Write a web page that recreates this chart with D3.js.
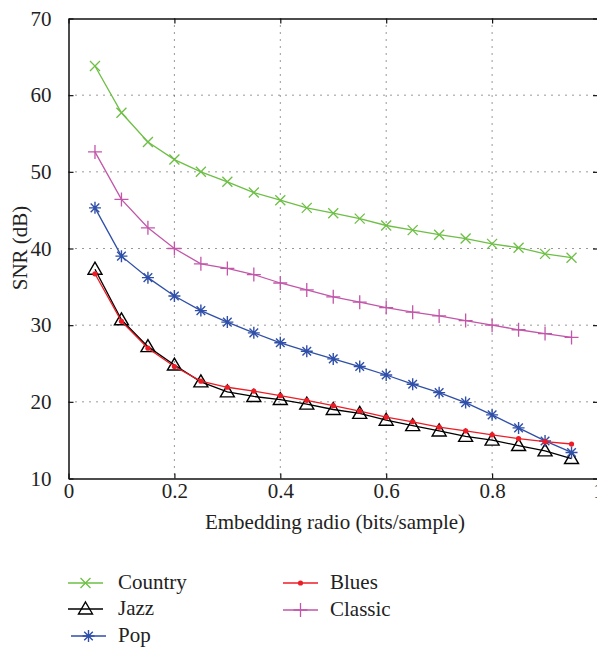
<!DOCTYPE html>
<html><head><meta charset="utf-8">
<script src="https://cdn.jsdelivr.net/npm/d3@7"></script>
<style>body{margin:0;background:#fff}svg{display:block}text{font-family:"Liberation Serif","DejaVu Serif",serif;fill:#222}</style>
</head><body><svg id="c" width="597" height="648"></svg>
<script>
const xs = [0.05,0.10,0.15,0.20,0.25,0.30,0.35,0.40,0.45,0.50,0.55,0.60,0.65,0.70,0.75,0.80,0.85,0.90,0.95];
const country = [63.8,57.7,53.9,51.6,50.0,48.7,47.3,46.3,45.3,44.6,43.9,43.0,42.4,41.8,41.3,40.6,40.1,39.3,38.8];
const jazz    = [37.3,30.7,27.2,24.8,22.6,21.3,20.7,20.3,19.7,19.0,18.5,17.6,16.9,16.2,15.5,15.0,14.3,13.6,12.6];
const pop     = [45.3,39.0,36.2,33.8,31.9,30.4,29.0,27.7,26.6,25.6,24.6,23.5,22.3,21.2,19.9,18.3,16.6,14.9,13.4];
const blues   = [36.7,30.5,27.0,24.6,22.7,21.9,21.4,20.8,20.2,19.5,18.8,18.0,17.4,16.7,16.2,15.7,15.2,14.8,14.5];
const classic = [52.6,46.4,42.7,40.0,38.0,37.4,36.6,35.5,34.6,33.7,33.0,32.3,31.7,31.2,30.6,30.0,29.4,28.9,28.4];
const xTicks = [0,0.2,0.4,0.6,0.8,1];
const xTickLabels = ["0","0.2","0.4","0.6","0.8","1"];
const yTicks = [10,20,30,40,50,60,70];
const seriesNames = ["Country","Jazz","Pop","Blues","Classic"];
const seriesColors = ["#6dbf45","#000000","#2f4fa8","#ee1c25","#c256a9"];
const seriesMarkers = ["x","triangle","star","dot","plus"];

const series = seriesNames.map((n,i)=>({name:n,color:seriesColors[i],marker:seriesMarkers[i],values:[country,jazz,pop,blues,classic][i]}));

const svg = d3.select("#c");
const L=68.5,R=598,T=18.5,B=478.5;
const x = d3.scaleLinear().domain([0,1]).range([L,R]);
const y = d3.scaleLinear().domain([10,70]).range([B,T]);
const FS = "21px";

// grid
const g = svg.append("g");
g.selectAll(".gx").data(xTicks.filter(v=>v>0&&v<1)).enter().append("line")
 .attr("x1",d=>x(d)).attr("x2",d=>x(d)).attr("y1",T).attr("y2",B)
 .attr("stroke","#333").attr("stroke-width",1).attr("stroke-dasharray","1,6");
g.selectAll(".gy").data(yTicks.filter(v=>v>10&&v<70)).enter().append("line")
 .attr("x1",L).attr("x2",R).attr("y1",d=>y(d)).attr("y2",d=>y(d))
 .attr("stroke","#333").attr("stroke-width",1).attr("stroke-dasharray","1,6");

// axes
const xa = svg.append("g").attr("transform",`translate(0,${B})`)
 .call(d3.axisBottom(x).tickValues(xTicks).tickFormat((d,i)=>xTickLabels[i]).tickSizeInner(-5).tickSizeOuter(0).tickPadding(5));
const xt = svg.append("g").attr("transform",`translate(0,${T})`)
 .call(d3.axisTop(x).tickValues(xTicks).tickFormat("").tickSizeInner(-5).tickSizeOuter(0));
const ya = svg.append("g").attr("transform",`translate(${L},0)`)
 .call(d3.axisLeft(y).tickValues(yTicks).tickSizeInner(-5).tickSizeOuter(0).tickPadding(17));
const yr = svg.append("g").attr("transform",`translate(${R},0)`)
 .call(d3.axisRight(y).tickValues(yTicks).tickFormat("").tickSizeInner(-5).tickSizeOuter(0));
[xa,xt,ya,yr].forEach(a=>{a.attr("font-size",null);a.selectAll("path").attr("stroke","#111").attr("stroke-width",1.5);
 a.selectAll("line").attr("stroke","#111").attr("stroke-width",1.2);
 a.selectAll("text").style("font-family",'"Liberation Serif",serif').style("font-size",FS).attr("fill","#222");});

svg.append("text").attr("x",335).attr("y",529).attr("text-anchor","middle").style("font-size",FS).text("Embedding radio (bits/sample)");
svg.append("text").attr("transform","translate(27,248) rotate(-90)").attr("text-anchor","middle").style("font-size",FS).text("SNR (dB)");

function drawMarker(sel,type,color){
  if(type==="x"){sel.append("path").attr("d","M-5,-5L5,5M-5,5L5,-5").attr("stroke",color).attr("stroke-width",1.3).attr("fill","none");}
  else if(type==="plus"){sel.append("path").attr("d","M-7,0L7,0M0,-7L0,7").attr("stroke",color).attr("stroke-width",1.3).attr("fill","none");}
  else if(type==="star"){sel.append("path").attr("d","M-6,0L6,0M0,-6L0,6M-4.3,-4.3L4.3,4.3M-4.3,4.3L4.3,-4.3").attr("stroke",color).attr("stroke-width",1.4).attr("fill","none");}
  else if(type==="dot"){sel.append("circle").attr("r",2.6).attr("fill",color);}
  else if(type==="triangle"){sel.append("path").attr("d","M0,-7L7,5L-7,5Z").attr("stroke",color).attr("stroke-width",1.4).attr("fill","none");}
}

const line = d3.line().x((d,i)=>x(xs[i])).y(d=>y(d));
series.forEach(s=>{
  const gs = svg.append("g");
  gs.append("path").attr("d",line(s.values)).attr("fill","none").attr("stroke",s.color).attr("stroke-width",1.3);
  s.values.forEach((v,i)=>{
    const m = gs.append("g").attr("transform",`translate(${x(xs[i])},${y(v)})`);
    drawMarker(m,s.marker,s.color);
  });
});

// legend
const legPos = [[68,583],[68,609],[71,636],[283,583],[283,610]];
series.forEach((s,i)=>{
  const [lx,ly]=legPos[i];
  const lg = svg.append("g");
  lg.append("line").attr("x1",lx).attr("x2",lx+35).attr("y1",ly).attr("y2",ly).attr("stroke",s.color).attr("stroke-width",1.3);
  drawMarker(lg.append("g").attr("transform",`translate(${lx+17.5},${ly})`),s.marker,s.color);
  lg.append("text").attr("x",i<3?118:330).attr("y",ly+6).style("font-size",FS).text(s.name);
});
</script></body></html>
